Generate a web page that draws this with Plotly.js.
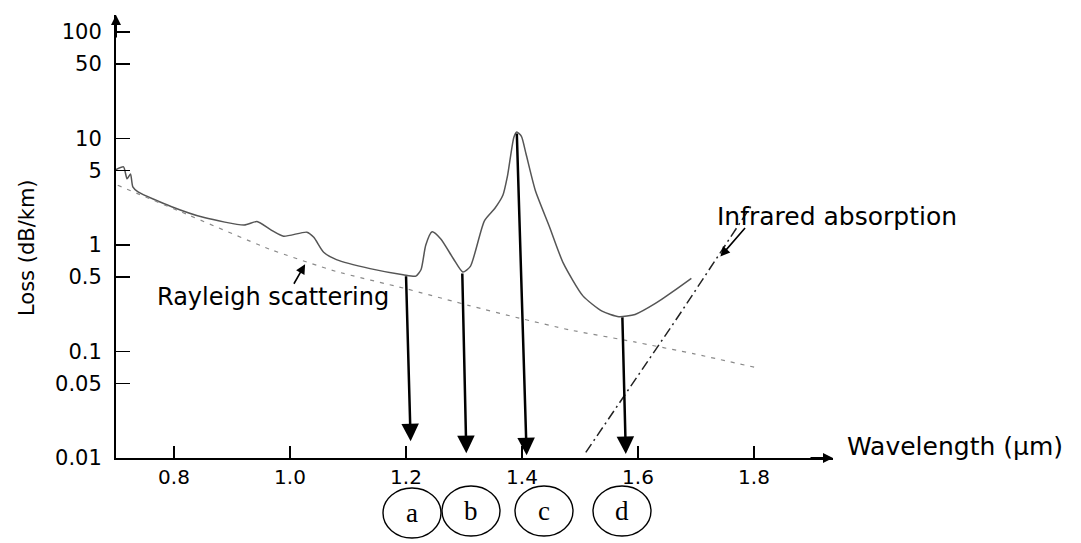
<!DOCTYPE html>
<html>
<head>
<meta charset="utf-8">
<script src="https://cdn.plot.ly/plotly-3.0.1.min.js"></script>
<style>html,body{margin:0;padding:0;background:#fff;}#chart{width:1081px;height:543px;}</style>
</head>
<body>
<div id="chart"></div>
<script>
// ---- data ----
const curveWavelength = [0.700, 0.713, 0.719, 0.725, 0.729, 0.738, 0.796, 0.852, 0.921, 0.943, 0.967, 0.989, 1.029, 1.041, 1.058, 1.080, 1.138, 1.195, 1.217, 1.226, 1.234, 1.245, 1.260, 1.282, 1.298, 1.311, 1.335, 1.353, 1.367, 1.375, 1.386, 1.391, 1.399, 1.407, 1.423, 1.447, 1.471, 1.505, 1.538, 1.567, 1.595, 1.630, 1.665, 1.692];
const curveLoss = [5.1, 5.42, 4.19, 4.65, 3.52, 3.16, 2.29, 1.81, 1.54, 1.66, 1.39, 1.21, 1.32, 1.18, 0.854, 0.729, 0.600, 0.526, 0.510, 0.589, 0.995, 1.33, 1.14, 0.739, 0.557, 0.630, 1.68, 2.20, 2.93, 4.46, 10.3, 11.5, 10.5, 7.15, 3.25, 1.50, 0.679, 0.333, 0.239, 0.212, 0.223, 0.283, 0.382, 0.487];

const rayleighWavelength = [0.703, 0.813, 0.966, 1.079, 1.199, 1.309, 1.395, 1.481, 1.594, 1.697, 1.807];
const rayleighLoss = [3.64, 2.04, 0.909, 0.566, 0.390, 0.270, 0.206, 0.160, 0.123, 0.095, 0.070];

const infraredWavelength = [1.510, 1.671, 1.798];
const infraredLoss = [0.0113, 0.22, 2.46];

const xTickValues = [0.8, 1.0, 1.2, 1.4, 1.6, 1.8];
const xTickLabels = ['0.8', '1.0', '1.2', '1.4', '1.6', '1.8'];
const yTickValues = [0.01, 0.05, 0.1, 0.5, 1, 5, 10, 50, 100];
const yTickLabels = ['0.01', '0.05', '0.1', '0.5', '1', '5', '10', '50', '100'];

const windowLabels = ['a', 'b', 'c', 'd'];
const windowFromWavelength = [1.200, 1.297, 1.391, 1.573];
const windowFromLoss = [0.525, 0.558, 11.5, 0.216];
const windowToWavelength = [1.208, 1.304, 1.408, 1.579];
const windowToLoss = [0.0144, 0.0111, 0.0106, 0.0109];

// ---- layout geometry ----
const W = 1081, H = 543;
const M = {l: 116, r: 248, t: 15, b: 85};
const plotW = W - M.l - M.r, plotH = H - M.t - M.b;
const xRange = [0.7, 0.7 + plotW / 580];
const yRange = [-2, 2.16];
const px2paperX = px => (px - M.l) / plotW;
const py2paperY = py => (H - M.b - py) / plotH;

const FONT = 'DejaVu Sans, Liberation Sans, Arial, sans-serif';
const SERIF = 'Liberation Serif, Times New Roman, serif';

const traces = [
  {x: curveWavelength, y: curveLoss, type: 'scatter', mode: 'lines',
   line: {color: '#555555', width: 1.5, shape: 'spline', smoothing: 0.6}, hoverinfo: 'skip'},
  {x: rayleighWavelength, y: rayleighLoss, type: 'scatter', mode: 'lines',
   line: {color: '#8a8a8a', width: 1.2, dash: '4px,6px', shape: 'spline', smoothing: 0.5}, hoverinfo: 'skip'},
  {x: infraredWavelength, y: infraredLoss, type: 'scatter', mode: 'lines',
   line: {color: '#222222', width: 1.5, dash: '10px,4px,2px,4px'}, hoverinfo: 'skip'}
];

const annotations = [];
const shapes = [];

// window arrows and circled labels
const circleCenters = [[412, 513], [471, 511], [544, 511], [622, 511]];
windowLabels.forEach((lab, i) => {
  annotations.push({
    x: windowToWavelength[i], y: Math.log10(windowToLoss[i]),
    ax: windowFromWavelength[i], ay: Math.log10(windowFromLoss[i]),
    xref: 'x', yref: 'y', axref: 'x', ayref: 'y',
    text: '', showarrow: true, arrowhead: 2, arrowsize: 1.4, arrowwidth: 2.5,
    arrowcolor: '#000', standoff: 0, startstandoff: 0
  });
  const [cx, cy] = circleCenters[i];
  shapes.push({type: 'circle', xref: 'paper', yref: 'paper',
    x0: px2paperX(cx - 29), x1: px2paperX(cx + 29),
    y0: py2paperY(cy + 25), y1: py2paperY(cy - 25),
    line: {color: '#000', width: 1.4}, fillcolor: 'rgba(0,0,0,0)'});
  annotations.push({x: px2paperX(cx), y: py2paperY(cy), xref: 'paper', yref: 'paper',
    text: lab, showarrow: false, xanchor: 'center', yanchor: 'middle',
    font: {family: SERIF, size: 27, color: '#000'}});
});

// axis arrows
annotations.push({x: 0, y: 1, xref: 'paper', yref: 'paper', ax: 0, ay: 24, text: '',
  showarrow: true, arrowhead: 2, arrowsize: 1, arrowwidth: 2, arrowcolor: '#000', standoff: 0});
annotations.push({x: 1, y: 0, xref: 'paper', yref: 'paper', ax: -24, ay: 0, text: '',
  showarrow: true, arrowhead: 2, arrowsize: 1, arrowwidth: 2, arrowcolor: '#000', standoff: 0});

// axis titles
annotations.push({x: px2paperX(27), y: py2paperY(248), xref: 'paper', yref: 'paper',
  text: 'Loss (dB/km)', textangle: -90, showarrow: false, xanchor: 'center', yanchor: 'middle',
  font: {family: FONT, size: 21, color: '#000'}});
annotations.push({x: px2paperX(845), y: py2paperY(446), xref: 'paper', yref: 'paper',
  text: 'Wavelength (μm)', showarrow: false, xanchor: 'left', yanchor: 'middle',
  font: {family: FONT, size: 25, color: '#000'}});

// curve labels
annotations.push({x: px2paperX(155), y: py2paperY(297), xref: 'paper', yref: 'paper',
  text: 'Rayleigh scattering', showarrow: false, xanchor: 'left', yanchor: 'middle',
  font: {family: FONT, size: 24, color: '#000'}});
annotations.push({x: 1.026, y: Math.log10(0.66), xref: 'x', yref: 'y', ax: -12, ay: 21,
  text: '', showarrow: true, arrowhead: 2, arrowsize: 1.2, arrowwidth: 1.6, arrowcolor: '#000', standoff: 0});
annotations.push({x: px2paperX(715), y: py2paperY(216), xref: 'paper', yref: 'paper',
  text: 'Infrared absorption', showarrow: false, xanchor: 'left', yanchor: 'middle',
  font: {family: FONT, size: 25, color: '#000'}});
annotations.push({x: 1.742, y: Math.log10(0.78), xref: 'x', yref: 'y', ax: 26, ay: -30,
  text: '', showarrow: true, arrowhead: 2, arrowsize: 1.2, arrowwidth: 1.6, arrowcolor: '#000', standoff: 0});

const layout = {
  width: W, height: H,
  margin: M,
  paper_bgcolor: '#fff', plot_bgcolor: '#fff',
  showlegend: false,
  font: {family: FONT, color: '#000'},
  xaxis: {
    range: xRange, showgrid: false, zeroline: false,
    showline: true, linecolor: '#000', linewidth: 2, mirror: false,
    ticks: 'inside', ticklen: 12, tickwidth: 1.5, tickcolor: '#000',
    tickvals: xTickValues, ticktext: xTickLabels,
    tickfont: {family: FONT, size: 20, color: '#000'}
  },
  yaxis: {
    type: 'log', range: yRange, showgrid: false, zeroline: false,
    showline: true, linecolor: '#000', linewidth: 2, mirror: false,
    ticks: 'inside', ticklen: 14, tickwidth: 1.5, tickcolor: '#000',
    tickvals: yTickValues, ticktext: yTickLabels,
    tickfont: {family: FONT, size: 21, color: '#000'},
    ticklabelstandoff: 8
  },
  annotations: annotations,
  shapes: shapes
};

Plotly.newPlot('chart', traces, layout, {displayModeBar: false, staticPlot: true});
</script>
</body>
</html>
